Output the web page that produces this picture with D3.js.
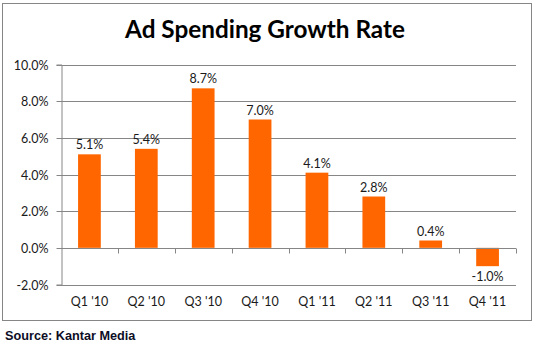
<!DOCTYPE html>
<html>
<head>
<meta charset="utf-8">
<script src="https://cdn.jsdelivr.net/npm/d3@7"></script>
<style>
  body { margin: 0; background: #fff; }
  svg { display: block; }
</style>
</head>
<body>
<div id="chart"></div>
<script>
var quarters = ["Q1 '10", "Q2 '10", "Q3 '10", "Q4 '10", "Q1 '11", "Q2 '11", "Q3 '11", "Q4 '11"];
var growth = [5.1, 5.4, 8.7, 7.0, 4.1, 2.8, 0.4, -1.0];
var yTicks = [-2, 0, 2, 4, 6, 8, 10];

var width = 535, height = 348;
var margin = { left: 61, right: 516, top: 64.5, bottom: 284.5 };

var svg = d3.select('#chart').append('svg')
    .attr('width', width)
    .attr('height', height);

// chart frame
svg.append('rect')
    .attr('x', 2.5).attr('y', 3.5)
    .attr('width', 529).attr('height', 317)
    .attr('fill', '#fff')
    .attr('stroke', '#868686');

var x = d3.scaleBand()
    .domain(quarters)
    .range([margin.left, margin.right])
    .paddingInner(0.6)
    .paddingOuter(0.3);

var y = d3.scaleLinear()
    .domain([-2, 10])
    .range([margin.bottom, margin.top]);

// gridlines
svg.append('g').selectAll('line')
    .data(yTicks.filter(function(d) { return d !== 0; }))
    .enter().append('line')
    .attr('x1', margin.left).attr('x2', margin.right)
    .attr('y1', function(d) { return Math.round(y(d)) + 0.5; })
    .attr('y2', function(d) { return Math.round(y(d)) + 0.5; })
    .attr('stroke', '#868686');

// y axis
var yAxis = svg.append('g')
    .attr('transform', 'translate(' + (margin.left + 0.5) + ',0)')
    .call(d3.axisLeft(y).tickValues(yTicks).tickSize(5).tickPadding(8)
        .tickFormat(function(d) { return d.toFixed(1) + '%'; }));
yAxis.select('.domain').attr('stroke', '#868686');
yAxis.selectAll('.tick line').attr('stroke', '#868686');
yAxis.selectAll('.tick').attr('transform', function(d) {
    return 'translate(0,' + (Math.round(y(d)) + 0.5) + ')';
});
yAxis.selectAll('text')
    .attr('font-family', 'Lato, "Open Sans", sans-serif')
    .attr('font-size', 12.5)
    .attr('fill', '#1a1a1a');

// bars
svg.append('g').selectAll('rect')
    .data(growth)
    .enter().append('rect')
    .attr('x', function(d, i) { return x(quarters[i]); })
    .attr('width', x.bandwidth())
    .attr('y', function(d) { return y(Math.max(0, d)); })
    .attr('height', function(d) { return Math.abs(y(d) - y(0)); })
    .attr('fill', '#ff6600');

// category axis at zero
var zeroY = Math.round(y(0)) + 0.5;
var bounds = d3.range(quarters.length + 1).map(function(i) {
    return margin.left + i * (margin.right - margin.left) / quarters.length;
});
svg.append('line')
    .attr('x1', margin.left).attr('x2', margin.right)
    .attr('y1', zeroY).attr('y2', zeroY)
    .attr('stroke', '#868686');
svg.append('g').selectAll('line')
    .data(bounds.slice(1))
    .enter().append('line')
    .attr('x1', function(d) { return Math.round(d) + 0.5; })
    .attr('x2', function(d) { return Math.round(d) + 0.5; })
    .attr('y1', zeroY).attr('y2', zeroY + 5)
    .attr('stroke', '#868686');

svg.append('g').selectAll('text')
    .data(quarters)
    .enter().append('text')
    .attr('x', function(d) { return x(d) + x.bandwidth() / 2; })
    .attr('y', 306)
    .attr('text-anchor', 'middle')
    .attr('font-family', 'Lato, "Open Sans", sans-serif')
    .attr('font-size', 12.5)
    .attr('fill', '#1a1a1a')
    .text(function(d) { return d; });

// data labels
svg.append('g').selectAll('text')
    .data(growth)
    .enter().append('text')
    .attr('x', function(d, i) { return x(quarters[i]) + x.bandwidth() / 2; })
    .attr('y', function(d) { return d >= 0 ? y(d) - 5 : y(d) + 15; })
    .attr('text-anchor', 'middle')
    .attr('font-family', 'Lato, "Open Sans", sans-serif')
    .attr('font-size', 12.5)
    .attr('fill', '#1a1a1a')
    .text(function(d) { return d.toFixed(1) + '%'; });

// title
svg.append('text')
    .attr('x', 265)
    .attr('y', 38)
    .attr('text-anchor', 'middle')
    .attr('font-family', 'Lato, sans-serif')
    .attr('font-weight', 'bold')
    .attr('font-size', 24.3)
    .attr('fill', '#000')
    .text('Ad Spending Growth Rate');

// source
svg.append('text')
    .attr('x', 5)
    .attr('y', 340)
    .attr('font-family', '"Liberation Sans", Arial, sans-serif')
    .attr('font-weight', 'bold')
    .attr('font-size', 12.7)
    .attr('fill', '#0d0d26')
    .text('Source: Kantar Media');
</script>
</body>
</html>
